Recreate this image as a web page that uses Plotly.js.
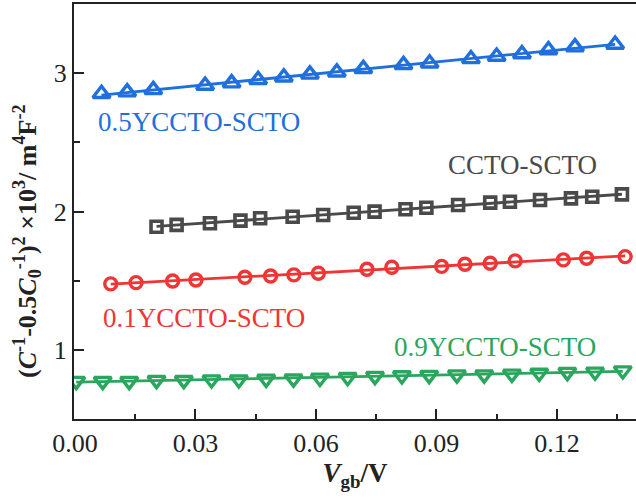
<!DOCTYPE html>
<html>
<head>
<meta charset="utf-8">
<script src="https://cdn.plot.ly/plotly-3.0.1.min.js"></script>
<style>html,body{margin:0;padding:0;background:#fff;}#chart{width:636px;height:499px;}</style>
</head>
<body>
<div id="chart"></div>
<script>
// ---- data ----
const seriesNames = ["0.5YCCTO-SCTO", "CCTO-SCTO", "0.1YCCTO-SCTO", "0.9YCCTO-SCTO"];

const xBlue = [0.0066, 0.0130, 0.0195, 0.0324, 0.0390, 0.0456, 0.0520, 0.0585, 0.0652, 0.0718, 0.0818, 0.0883, 0.0986, 0.1050, 0.1113, 0.1179, 0.1245, 0.1345];
const yBlue = [2.851, 2.863, 2.879, 2.911, 2.928, 2.952, 2.971, 2.991, 3.007, 3.031, 3.060, 3.072, 3.103, 3.121, 3.139, 3.168, 3.188, 3.207];

const xGray = [0.0203, 0.0253, 0.0336, 0.0412, 0.0461, 0.0542, 0.0618, 0.0694, 0.0746, 0.0823, 0.0875, 0.0954, 0.1034, 0.1083, 0.1158, 0.1235, 0.1288, 0.1362];
const yGray = [1.890, 1.903, 1.915, 1.934, 1.951, 1.962, 1.975, 1.991, 1.999, 2.016, 2.027, 2.047, 2.064, 2.071, 2.083, 2.095, 2.107, 2.124];

const xRed = [0.0089, 0.0152, 0.0243, 0.0301, 0.0423, 0.0487, 0.0545, 0.0606, 0.0727, 0.0789, 0.0913, 0.0971, 0.1034, 0.1096, 0.1216, 0.1274, 0.1370];
const yRed = [1.477, 1.486, 1.498, 1.505, 1.525, 1.534, 1.542, 1.554, 1.583, 1.597, 1.603, 1.619, 1.626, 1.643, 1.650, 1.662, 1.674];

const xGreen = [0.0003, 0.0069, 0.0135, 0.0203, 0.0271, 0.0340, 0.0408, 0.0476, 0.0544, 0.0610, 0.0679, 0.0747, 0.0814, 0.0882, 0.0951, 0.1019, 0.1088, 0.1156, 0.1226, 0.1295, 0.1364];
const yGreen = [0.774, 0.774, 0.774, 0.781, 0.781, 0.785, 0.785, 0.790, 0.792, 0.797, 0.802, 0.810, 0.814, 0.817, 0.821, 0.821, 0.826, 0.833, 0.839, 0.841, 0.850];

const xTickVals = [0, 0.03, 0.06, 0.09, 0.12];
const xTickText = ["0.00", "0.03", "0.06", "0.09", "0.12"];
const yTickVals = [1, 2, 3];
const yTickText = ["1", "2", "3"];

// ---- styling ----
const FONT = "'Times New Roman', 'Liberation Serif', serif";
const cBlue = "#1f6fdc", cGray = "#4a4a4a", cRed = "#ef3535", cGreen = "#2aa65e";

function fit(xs, ys) {
  const n = xs.length;
  let sx = 0, sy = 0, sxx = 0, sxy = 0;
  for (let i = 0; i < n; i++) { sx += xs[i]; sy += ys[i]; sxx += xs[i]*xs[i]; sxy += xs[i]*ys[i]; }
  const b = (n*sxy - sx*sy) / (n*sxx - sx*sx);
  const a = (sy - b*sx) / n;
  const x0 = Math.min(...xs), x1 = Math.max(...xs);
  return {x: [x0, x1], y: [a + b*x0, a + b*x1]};
}

function series(xs, ys, color, symbol, size, lw) {
  const f = fit(xs, ys);
  return [
    {x: f.x, y: f.y, mode: "lines", line: {color: color, width: 2.8}, hoverinfo: "skip", showlegend: false},
    {x: xs, y: ys, mode: "markers", showlegend: false,
     marker: {symbol: symbol, size: size, color: color, line: {color: color, width: lw}}}
  ];
}

const data = [].concat(
  series(xBlue, yBlue, cBlue, "triangle-up-open", 15, 3.4),
  series(xGray, yGray, cGray, "square-open", 11, 3.6),
  series(xRed, yRed, cRed, "circle-open", 12, 3.4),
  series(xGreen, yGreen, cGreen, "triangle-down-open", 15, 3.4)
);

function px2paper(px, py) { return {x: (px - 74) / 562, y: (419 - py) / 415}; }
function label(text, color, px, py) {
  const p = px2paper(px, py);
  return {text: text, x: p.x, y: p.y, xref: "paper", yref: "paper", xanchor: "left", yanchor: "middle",
          showarrow: false, font: {family: FONT, size: 27, color: color}};
}

const ytitle = px2paper(27, 241);

const layout = {
  width: 636, height: 499,
  margin: {l: 74, r: 0, t: 4, b: 80},
  paper_bgcolor: "#ffffff", plot_bgcolor: "#ffffff",
  font: {family: FONT, size: 26, color: "#222"},
  showlegend: false,
  xaxis: {
    range: [-0.00025, 0.1397],
    tickvals: xTickVals, ticktext: xTickText,
    ticks: "inside", ticklen: 10, tickwidth: 2, tickcolor: "#222",
    minor: {tickvals: [0.015, 0.045, 0.075, 0.105, 0.135], ticks: "inside", ticklen: 5, tickwidth: 2, tickcolor: "#222"},
    showline: true, linewidth: 2, linecolor: "#222", mirror: true,
    showgrid: false, zeroline: false,
    tickfont: {family: FONT, size: 26, color: "#222"},
    title: {text: "<b><i>V</i><sub>gb</sub>/V</b>", font: {family: FONT, size: 27, color: "#222"}, standoff: 0}
  },
  yaxis: {
    range: [0.5, 3.5],
    tickvals: yTickVals, ticktext: yTickText,
    ticks: "inside", ticklen: 10, tickwidth: 2, tickcolor: "#222",
    minor: {tickvals: [1.5, 2.5], ticks: "inside", ticklen: 6, tickwidth: 2, tickcolor: "#222"},
    showline: true, linewidth: 2, linecolor: "#222", mirror: false,
    showgrid: false, zeroline: false,
    tickfont: {family: FONT, size: 26, color: "#222"}
  },
  annotations: [
    label(seriesNames[0], cBlue, 96, 122),
    label(seriesNames[1], cGray, 446, 165),
    label(seriesNames[2], cRed, 101, 318),
    label(seriesNames[3], cGreen, 392, 347),
    {text: "<b>(<i>C</i><sup>-1</sup>-0.5<i>C</i><sub>0</sub><sup>-1</sup>)<sup>2</sup> ×10<sup>3</sup>/ m<sup>4</sup>F<sup>-2</sup></b>",
     x: ytitle.x, y: ytitle.y, xref: "paper", yref: "paper", xanchor: "center", yanchor: "middle",
     textangle: -90, showarrow: false, font: {family: FONT, size: 26, color: "#222"}}
  ]
};

Plotly.newPlot("chart", data, layout, {displayModeBar: false, staticPlot: true});
</script>
</body>
</html>
